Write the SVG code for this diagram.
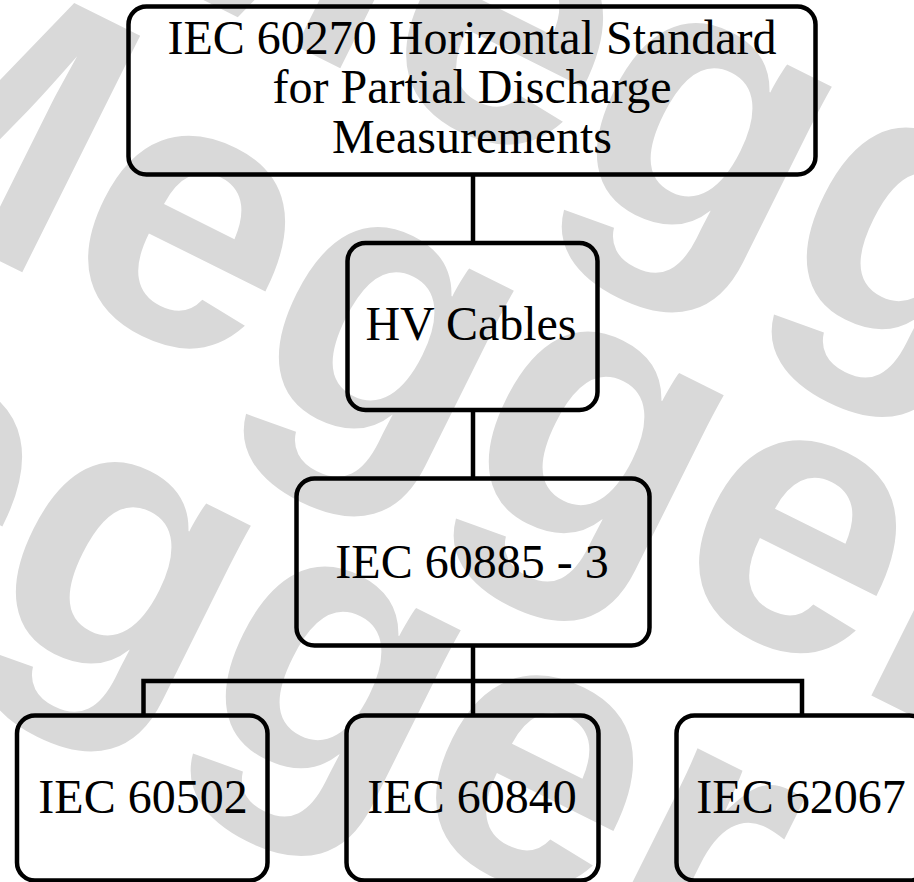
<svg xmlns="http://www.w3.org/2000/svg" width="914" height="882" viewBox="0 0 914 882">
<style>
.wm{font-family:"Liberation Sans",Arial,sans-serif;font-weight:bold;font-size:384px;fill:#d9d9d9}
.box{fill:none;stroke:#000;stroke-width:4.5}
.lbl{font-family:"Liberation Serif","Times New Roman",serif;font-size:48px;fill:#000;text-anchor:middle}
.conn{fill:none;stroke:#000;stroke-width:4.5;stroke-linejoin:miter}
</style>
<rect x="0" y="0" width="914" height="882" fill="#fff"/>
<g id="watermark">
<text class="wm" transform="translate(77,-63) rotate(26.5)">Megger</text>
<text class="wm" transform="translate(-241,141) rotate(26.5)">Megger</text>
<text class="wm" transform="translate(-504,376) rotate(26.5)">Megger</text>
</g>
<g id="connectors">
<line class="conn" x1="473" y1="175" x2="473" y2="244"/>
<line class="conn" x1="473" y1="409" x2="473" y2="479"/>
<line class="conn" x1="473" y1="645" x2="473" y2="716"/>
<polyline class="conn" points="143.5,716 143.5,681 802,681 802,716"/>
</g>
<g id="node-title">
<rect class="box" x="128.5" y="6.5" width="687" height="168" rx="18"/>
<text class="lbl" x="472" y="54">IEC 60270 Horizontal Standard</text>
<text class="lbl" x="472" y="103">for Partial Discharge</text>
<text class="lbl" x="472" y="153">Measurements</text>
</g>
<g id="node-hv">
<rect class="box" x="347.5" y="243" width="250" height="167" rx="18"/>
<text class="lbl" x="471" y="340">HV Cables</text>
</g>
<g id="node-60885">
<rect class="box" x="296.5" y="478.5" width="353" height="167" rx="18"/>
<text class="lbl" x="472" y="578">IEC 60885 - 3</text>
</g>
<g id="node-60502">
<rect class="box" x="17" y="715.5" width="250.5" height="165" rx="18"/>
<text class="lbl" x="143" y="813">IEC 60502</text>
</g>
<g id="node-60840">
<rect class="box" x="346.5" y="715.5" width="252" height="165" rx="18"/>
<text class="lbl" x="472" y="813">IEC 60840</text>
</g>
<g id="node-62067">
<rect class="box" x="676.5" y="715.5" width="251" height="165" rx="18"/>
<text class="lbl" x="801" y="813">IEC 62067</text>
</g>
</svg>
